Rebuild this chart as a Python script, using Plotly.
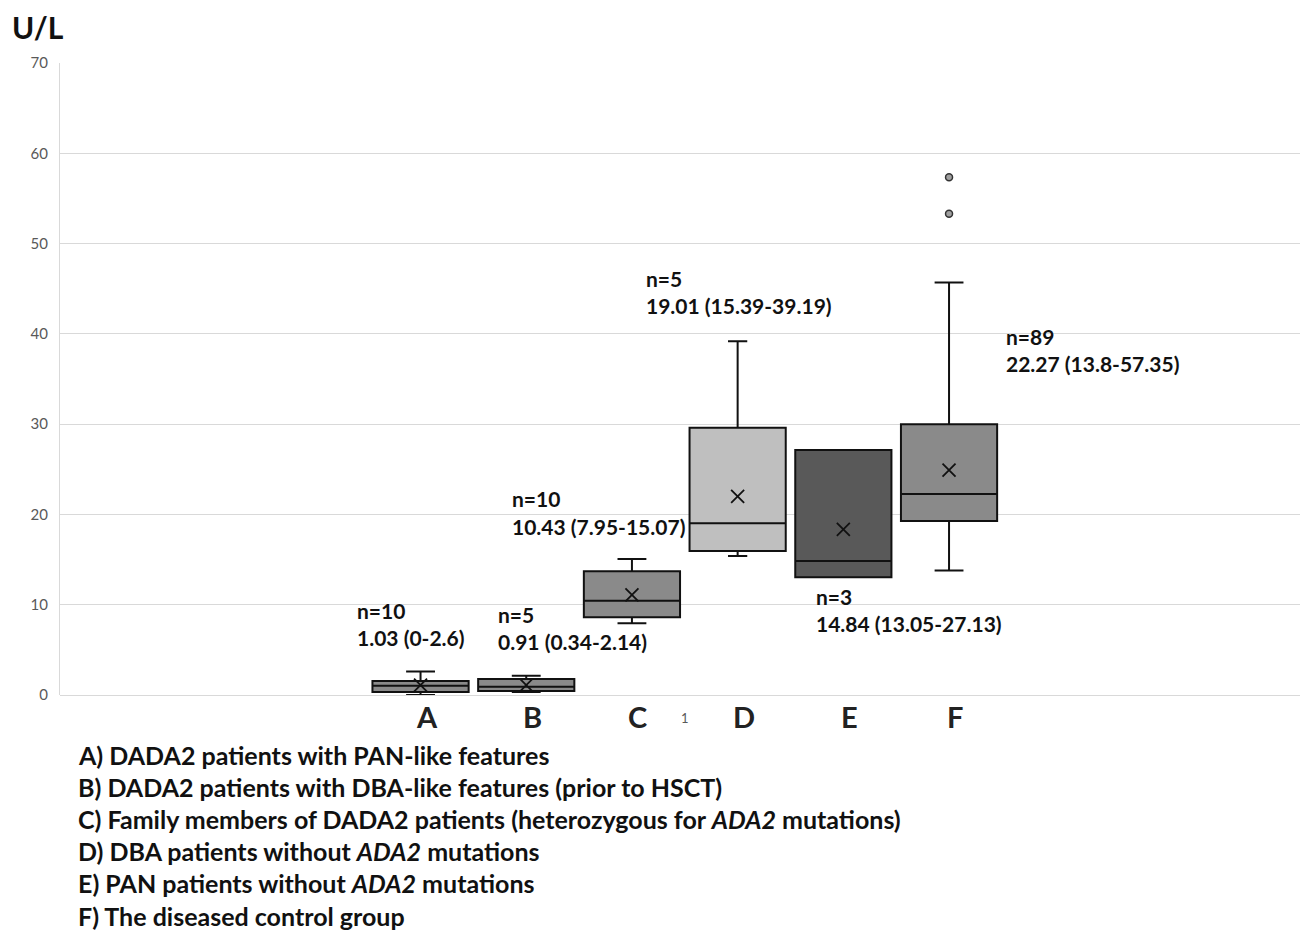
import plotly.graph_objects as go

# ---------------- data ----------------
groups = ["A", "B", "C", "D", "E", "F"]
positions = [0, 1, 2, 3, 4, 5]
q1_vals = [0.33, 0.44, 8.6, 15.95, 13.05, 19.27]
median_vals = [1.03, 0.91, 10.43, 19.01, 14.84, 22.27]
q3_vals = [1.55, 1.77, 13.7, 29.6, 27.13, 30.0]
lower_vals = [0.0, 0.34, 7.95, 15.39, 13.05, 13.8]
upper_vals = [2.6, 2.14, 15.07, 39.19, 27.13, 45.7]
mean_vals = [1.1, 1.1, 11.1, 22.0, 18.34, 24.9]
outlier_x = [5, 5]
outlier_y = [57.35, 53.3]
n_labels = ["n=10", "n=5", "n=10", "n=5", "n=3", "n=89"]
stat_labels = ["1.03 (0-2.6)", "0.91 (0.34-2.14)", "10.43 (7.95-15.07)",
               "19.01 (15.39-39.19)", "14.84 (13.05-27.13)", "22.27 (13.8-57.35)"]
legend_lines = [
    "A) DADA2 patients with PAN-like features",
    "B) DADA2 patients with DBA-like features (prior to HSCT)",
    "C) Family members of DADA2 patients (heterozygous for <i>ADA2</i> mutations)",
    "D) DBA patients without <i>ADA2</i> mutations",
    "E) PAN patients without <i>ADA2</i> mutations",
    "F) The diseased control group",
]
y_ticks = [0, 10, 20, 30, 40, 50, 60, 70]

# ---------------- styles ----------------
box_colors = ["#8a8a8a", "#8a8a8a", "#8a8a8a", "#bfbfbf", "#595959", "#8a8a8a"]
whisker_w = [0.3, 0.3, 0.3, 0.2, 0.3, 0.3]
label_pos = [(-0.62, 9.4, 6.4), (0.714, 8.97, 5.95), (0.85, 21.8, 18.7),
             (2.115, 46.1, 43.1), (3.724, 10.9, 7.97), (5.52, 39.76, 36.75)]
FONT = "Lato"

fig = go.Figure()
for i in range(len(groups)):
    fig.add_trace(go.Box(
        x=[positions[i]], q1=[q1_vals[i]], median=[median_vals[i]], q3=[q3_vals[i]],
        lowerfence=[lower_vals[i]], upperfence=[upper_vals[i]],
        width=0.91, whiskerwidth=whisker_w[i],
        fillcolor=box_colors[i], line=dict(color="#111111", width=2),
        boxpoints=False, showlegend=False, hoverinfo="skip",
    ))

fig.add_trace(go.Scatter(
    x=positions, y=mean_vals, mode="markers",
    marker=dict(symbol="x-thin", size=13, line=dict(color="#111111", width=1.8)),
    showlegend=False, hoverinfo="skip",
))
fig.add_trace(go.Scatter(
    x=outlier_x, y=outlier_y, mode="markers",
    marker=dict(symbol="circle", size=7, color="#a0a0a0", line=dict(color="#333333", width=1.5)),
    showlegend=False, hoverinfo="skip",
))

anns = []
for i in range(len(groups)):
    lx, y1, y2 = label_pos[i]
    anns.append(dict(x=lx, y=y1, xref="x", yref="y", text="<b>" + n_labels[i] + "</b>",
                     showarrow=False, xanchor="left", yanchor="middle",
                     font=dict(family=FONT, size=21, color="#111111")))
    anns.append(dict(x=lx, y=y2, xref="x", yref="y", text="<b>" + stat_labels[i] + "</b>",
                     showarrow=False, xanchor="left", yanchor="middle",
                     font=dict(family=FONT, size=21, color="#111111")))
    anns.append(dict(x=positions[i], y=-0.034, xref="x", yref="paper", text="<b>" + groups[i] + "</b>",
                     showarrow=False, xanchor="center", yanchor="middle", xshift=6,
                     font=dict(family=FONT, size=29, color="#222222")))

for k, line in enumerate(legend_lines):
    anns.append(dict(x=0.0128, y=-0.095 - k * 0.0508, xref="paper", yref="paper",
                     text="<b>" + line + "</b>", showarrow=False,
                     xanchor="left", yanchor="middle",
                     font=dict(family=FONT, size=25, color="#111111")))

anns.append(dict(x=-0.0401, y=1.057, xref="paper", yref="paper", text="<b>U/L</b>",
                 showarrow=False, xanchor="left", yanchor="middle",
                 font=dict(family=FONT, size=30, color="#111111")))

fig.update_layout(
    width=1300, height=923,
    margin=dict(l=52, r=0, t=55, b=236),
    plot_bgcolor="white", paper_bgcolor="white",
    annotations=anns,
    xaxis=dict(range=[-3.411, 8.396], showgrid=False, zeroline=False,
               tickvals=[2.5], ticktext=["1"], ticks="", ticklabelstandoff=14,
               tickfont=dict(family=FONT, size=13, color="#595959"),
               showline=False),
    yaxis=dict(range=[0, 70], tickvals=y_ticks, showgrid=True, gridcolor="#d9d9d9",
               gridwidth=1.3, zeroline=True, zerolinecolor="#d9d9d9", zerolinewidth=1.3,
               showline=True, linecolor="#d9d9d9", linewidth=1.3,
               ticks="", ticklabelstandoff=8,
               tickfont=dict(family=FONT, size=15, color="#595959")),
)

fig.write_html("out.html")
